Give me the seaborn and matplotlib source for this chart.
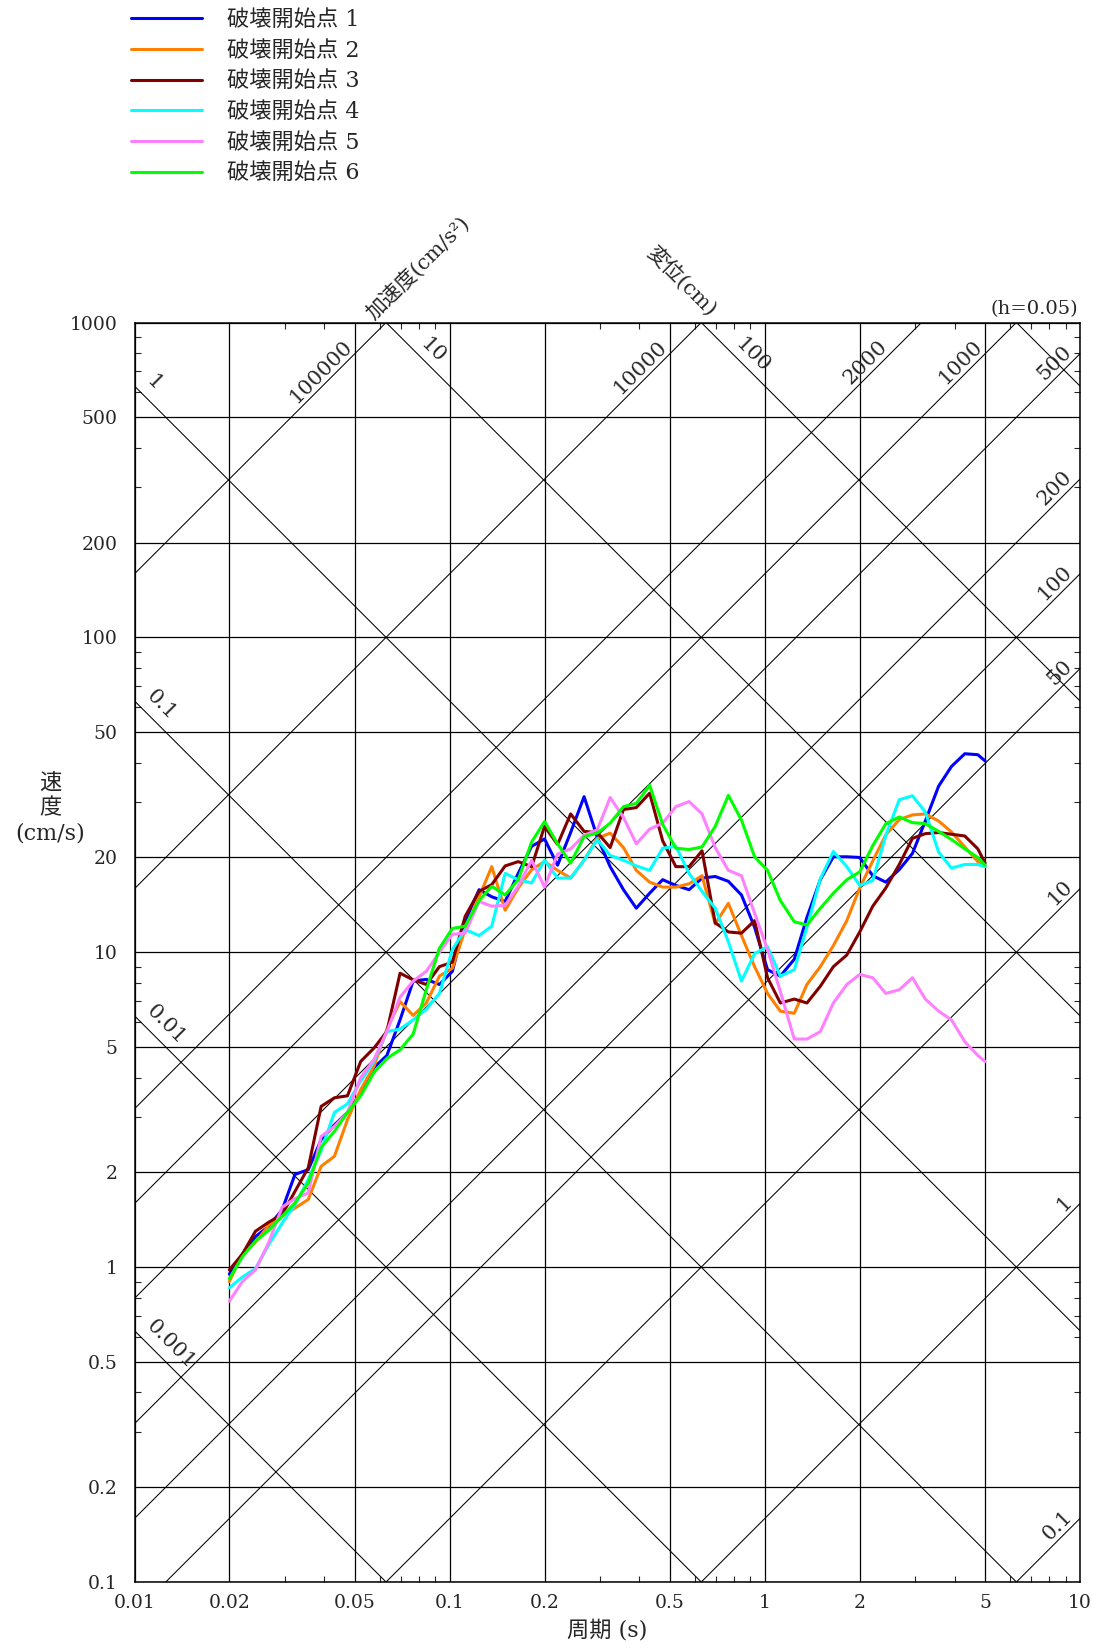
import numpy as np
import pandas as pd
import seaborn as sns
import matplotlib.pyplot as plt
from matplotlib.ticker import FixedLocator, NullFormatter

# 周期 (s)
periods = [0.02, 0.022, 0.0242, 0.0267, 0.0294, 0.0323, 0.0356, 0.0391, 0.0431, 0.0474,
           0.0522, 0.0575, 0.0632, 0.0696, 0.0766, 0.0843, 0.0928, 0.102, 0.112, 0.124,
           0.136, 0.150, 0.165, 0.182, 0.2, 0.22, 0.242, 0.267, 0.294, 0.323,
           0.356, 0.391, 0.431, 0.474, 0.522, 0.575, 0.632, 0.696, 0.766, 0.843,
           0.928, 1.02, 1.12, 1.24, 1.36, 1.50, 1.65, 1.82, 2.0, 2.2,
           2.42, 2.67, 2.94, 3.23, 3.56, 3.91, 4.31, 4.74, 5.0]

# 速度応答スペクトル (cm/s)
sv_1 = [0.95, 1.10, 1.25, 1.35, 1.52, 1.97, 2.04, 2.54, 2.83, 3.1,
        3.57, 4.3, 4.7, 6.1, 8.1, 8.2, 7.9, 8.7, 12.6, 15.8,
        15.0, 14.5, 17.8, 21.7, 22.9, 18.9, 24.0, 31.2, 23.2, 18.7,
        15.8, 13.8, 15.4, 17.0, 16.3, 15.8, 17.2, 17.4, 16.8, 15.2,
        12.0, 8.8, 8.4, 9.5, 12.9, 17.0, 20.1, 20.1, 20.0, 17.5,
        16.7, 18.3, 20.6, 26.1, 33.7, 38.9, 42.7, 42.4, 40.5]
sv_2 = [0.90, 1.10, 1.20, 1.36, 1.45, 1.54, 1.64, 2.09, 2.25, 2.94,
        3.66, 4.34, 5.7, 6.97, 6.3, 6.9, 8.4, 8.9, 11.8, 15.0,
        18.7, 13.6, 16.0, 18.3, 19.4, 18.2, 17.2, 19.6, 23.0, 23.9,
        21.5, 18.2, 16.7, 16.1, 16.1, 16.5, 17.5, 12.3, 14.3, 11.3,
        9.0, 7.4, 6.5, 6.4, 7.9, 9.0, 10.5, 12.6, 16.0, 19.5,
        23.6, 26.4, 27.3, 27.5, 26.1, 24.1, 21.6, 19.4, 18.7]
sv_3 = [0.98, 1.10, 1.30, 1.39, 1.47, 1.74, 2.07, 3.24, 3.45, 3.5,
        4.5, 4.96, 5.6, 8.58, 8.17, 7.9, 9.0, 9.3, 13.0, 15.6,
        16.4, 18.8, 19.4, 18.7, 25.1, 22.0, 27.5, 24.2, 24.0, 21.5,
        28.4, 28.8, 32.0, 22.6, 18.7, 18.7, 21.0, 12.4, 11.6, 11.5,
        12.6, 8.3, 6.9, 7.1, 6.9, 7.8, 9.0, 9.8, 11.6, 14.0,
        16.0, 19.0, 23.0, 23.8, 24.0, 23.7, 23.4, 21.3, 19.2]
sv_4 = [0.86, 0.93, 0.99, 1.18, 1.38, 1.58, 1.9, 2.35, 3.1, 3.3,
        3.9, 4.5, 5.6, 5.7, 6.1, 6.6, 7.4, 10.2, 11.8, 11.3,
        12.1, 17.8, 17.0, 16.6, 19.6, 17.2, 17.2, 19.6, 22.8, 20.3,
        19.6, 18.8, 18.2, 21.4, 21.7, 17.8, 15.6, 13.8, 10.8, 8.1,
        9.9, 10.4, 8.4, 8.8, 12.0, 17.1, 20.9, 18.7, 16.3, 16.9,
        23.5, 30.5, 31.4, 27.9, 20.8, 18.5, 19.0, 19.0, 18.7]
sv_5 = [0.78, 0.9, 0.98, 1.2, 1.55, 1.65, 1.72, 2.6, 2.8, 3.1,
        4.0, 4.56, 5.6, 7.2, 8.1, 8.7, 10.0, 11.4, 11.5, 14.5,
        14.0, 14.1, 16.2, 19.6, 16.1, 20.5, 21.3, 23.5, 24.5, 31.0,
        26.8, 22.1, 24.6, 25.7, 29.0, 30.1, 27.5, 21.5, 18.2, 17.5,
        13.3, 10.2, 7.5, 5.3, 5.3, 5.6, 6.9, 7.9, 8.5, 8.3,
        7.4, 7.6, 8.3, 7.1, 6.5, 6.1, 5.2, 4.7, 4.5]
sv_6 = [0.92, 1.08, 1.21, 1.31, 1.45, 1.6, 1.85, 2.4, 2.7, 3.1,
        3.5, 4.15, 4.6, 4.9, 5.5, 7.6, 10.3, 11.9, 12.1, 14.6,
        16.2, 15.2, 17.0, 22.4, 26.0, 22.1, 19.2, 23.3, 23.9, 25.7,
        29.0, 29.7, 33.9, 25.5, 21.4, 21.2, 21.6, 25.1, 31.5, 26.3,
        20.1, 18.2, 14.6, 12.5, 12.2, 13.8, 15.4, 17.0, 18.0, 21.8,
        25.6, 26.9, 25.8, 25.6, 24.2, 22.8, 21.3, 20.0, 18.9]

case_names = ['破壊開始点 1', '破壊開始点 2', '破壊開始点 3',
              '破壊開始点 4', '破壊開始点 5', '破壊開始点 6']
case_colors = ['#0000ff', '#ff8000', '#800000', '#00ffff', '#ff80ff', '#00ff00']

x_ticks = [0.01, 0.02, 0.05, 0.1, 0.2, 0.5, 1, 2, 5, 10]
x_tick_labels = ['0.01', '0.02', '0.05', '0.1', '0.2', '0.5', '1', '2', '5', '10']
y_ticks = [0.1, 0.2, 0.5, 1, 2, 5, 10, 20, 50, 100, 200, 500, 1000]
y_tick_labels = ['0.1', '0.2', '0.5', '1', '2', '5', '10', '20', '50', '100', '200', '500', '1000']

# 三軸図の斜線
accel_lines = [0.1, 1, 10, 50, 100, 200, 500, 1000, 2000, 10000, 100000]
disp_lines = [0.001, 0.01, 0.1, 1, 10, 100, 1000]
accel_right_labels = [0.1, 1, 10, 50, 100, 200, 500]
accel_top_labels = [1000, 2000, 10000, 100000]
disp_left_labels = [0.001, 0.01, 0.1, 1]
disp_top_labels = [10, 100]

sns.set_style('white')
plt.rcParams['font.family'] = ['DejaVu Serif', 'Noto Sans CJK JP']

df = pd.concat([pd.DataFrame({'周期': periods, '速度': sv, 'case': name})
                for sv, name in zip([sv_1, sv_2, sv_3, sv_4, sv_5, sv_6], case_names)])

fig = plt.figure(figsize=(11.02, 16.48), dpi=100)
ax = fig.add_axes([134.5 / 1102, 1 - 1582 / 1648, 945.5 / 1102, 1259.5 / 1648])
ax.set_xscale('log')
ax.set_yscale('log')
xmin, xmax, ymin, ymax = 0.01, 10, 0.1, 1000

tt = np.array([1e-3, 1e2])
for a in accel_lines:
    ax.plot(tt, a * tt / (2 * np.pi), color='black', lw=0.75, zorder=1, scalex=False, scaley=False)
for d in disp_lines:
    ax.plot(tt, 2 * np.pi * d / tt, color='black', lw=0.75, zorder=1, scalex=False, scaley=False)

sns.lineplot(data=df, x='周期', y='速度', hue='case', palette=case_colors,
             estimator=None, linewidth=2.2, ax=ax, zorder=3)

ax.set_xlim(xmin, xmax)
ax.set_ylim(ymin, ymax)

ax.xaxis.set_major_locator(FixedLocator(x_ticks))
ax.set_xticklabels(x_tick_labels)
ax.yaxis.set_major_locator(FixedLocator(y_ticks))
ax.set_yticklabels(y_tick_labels)
minor_x = [m * 10.0 ** e for e in range(-2, 1) for m in (3, 4, 6, 7, 8, 9)]
minor_y = [m * 10.0 ** e for e in range(-1, 3) for m in (3, 4, 6, 7, 8, 9)]
ax.xaxis.set_minor_locator(FixedLocator(minor_x))
ax.yaxis.set_minor_locator(FixedLocator(minor_y))
ax.xaxis.set_minor_formatter(NullFormatter())
ax.yaxis.set_minor_formatter(NullFormatter())
ax.grid(True, which='major', color='black', lw=0.9)
ax.tick_params(which='major', length=0, labelsize=13.5)
ax.tick_params(axis='x', which='major', pad=9)
ax.tick_params(axis='y', which='major', pad=12)
ax.tick_params(which='minor', direction='in', length=4, width=0.8,
               top=True, right=True, bottom=True, left=True)
for s in ax.spines.values():
    s.set_linewidth(1.1)
    s.set_color('black')
ax.set_xlabel('')
ax.set_ylabel('')

# 斜線ラベル
lab_kw = dict(fontsize=15, rotation_mode='anchor', zorder=2)
for a in accel_right_labels:
    t = 9.7
    ax.text(t, a * t / (2 * np.pi) * 1.02, f'{a:g}', rotation=45, ha='right', va='bottom', **lab_kw)
for a in accel_top_labels:
    t = 0.8 * 2 * np.pi * 1000 / a
    ax.text(t, a * t / (2 * np.pi) * 1.02, f'{a:g}', rotation=45, ha='right', va='bottom', **lab_kw)
for d in disp_left_labels:
    t = 0.0106
    ax.text(t, 2 * np.pi * d / t * 1.07, f'{d:g}', rotation=-45, ha='left', va='bottom', **lab_kw)
for d in disp_top_labels:
    t = 1.25 * 2 * np.pi * d / 1000
    ax.text(t, 2 * np.pi * d / t * 1.04, f'{d:g}', rotation=-45, ha='left', va='bottom', **lab_kw)

fig.text(418 / 1102, 1 - 268 / 1648, '加速度(cm/s²)', rotation=45, ha='center', va='center', fontsize=15)
fig.text(681 / 1102, 1 - 281 / 1648, '変位(cm)', rotation=-45, ha='center', va='center', fontsize=15)
fig.text(1078 / 1102, 1 - 318 / 1648, '(h=0.05)', ha='right', va='bottom', fontsize=14)

fig.text(50 / 1102, 1 - 808 / 1648, '速\n度\n(cm/s)', ha='center', va='center',
         fontsize=16, linespacing=1.2)
fig.text(607 / 1102, 1 - 1630 / 1648, '周期 (s)', ha='center', va='center', fontsize=16)

handles, labels = ax.get_legend_handles_labels()
ax.legend(handles, labels, loc='upper left', bbox_to_anchor=(131 / 1102, 1 - 9 / 1648),
          bbox_transform=fig.transFigure, frameon=False, fontsize=16,
          handlelength=3.2, handletextpad=1.1, labelspacing=0.39,
          borderpad=0, borderaxespad=0)

fig.savefig('out.png', dpi=100)
